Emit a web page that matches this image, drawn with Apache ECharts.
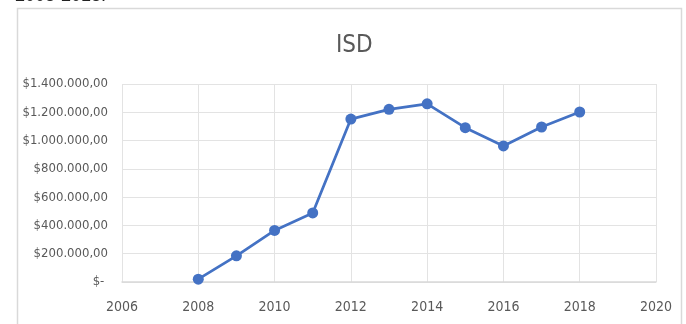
<!DOCTYPE html>
<html>
<head>
<meta charset="utf-8">
<script src="https://cdn.jsdelivr.net/npm/echarts@6/dist/echarts.min.js"></script>
<style>
html,body{margin:0;padding:0;background:#fff;}
#chart{width:686px;height:324px;}
</style>
</head>
<body>
<div id="chart"></div>
<script>
var years = [2008, 2009, 2010, 2011, 2012, 2013, 2014, 2015, 2016, 2017, 2018];
var isdValues = [20000, 185000, 365000, 488000, 1152000, 1221000, 1260000, 1091000, 962000, 1096000, 1202000];
var yTickLabels = ['$-', '$200.000,00', '$400.000,00', '$600.000,00', '$800.000,00', '$1.000.000,00', '$1.200.000,00', '$1.400.000,00'];
var xTickLabels = ['2006', '2008', '2010', '2012', '2014', '2016', '2018', '2020'];

var labelFont = '"DejaVu Sans Condensed", "DejaVu Sans", sans-serif';
var chart = echarts.init(document.getElementById('chart'), null, {renderer: 'canvas'});
var seriesData = years.map(function (y, i) { return [y, isdValues[i]]; });

chart.setOption({
  animation: false,
  backgroundColor: '#ffffff',
  title: {
    text: 'ISD',
    left: 331,
    top: 29,
    textStyle: {color: '#595959', fontSize: 24, fontWeight: 'normal', fontFamily: labelFont}
  },
  graphic: [
    {type: 'rect', shape: {x: 17.5, y: 8.5, width: 664, height: 320}, style: {fill: 'none', stroke: '#d9d9d9', lineWidth: 1.5}, silent: true},
    {type: 'text', left: 15, top: -13, style: {text: '2008-2018.', fontSize: 18, fontFamily: 'Liberation Sans, Arial, sans-serif', fill: '#222222'}, silent: true}
  ],
  grid: {left: 122, right: 30, top: 84, bottom: 42, containLabel: false},
  xAxis: {
    type: 'value',
    min: 2006, max: 2020, interval: 2,
    axisLine: {show: true, lineStyle: {color: '#d9d9d9', width: 1.5}},
    axisTick: {show: false},
    splitLine: {show: true, lineStyle: {color: '#e3e3e3', width: 1}},
    axisLabel: {
      color: '#595959', fontSize: 14, fontFamily: labelFont, margin: 18,
      formatter: function (v) { var i = Math.round((v - 2006) / 2); return xTickLabels[i] || ''; }
    }
  },
  yAxis: {
    type: 'value',
    min: 0, max: 1400000, interval: 200000,
    axisLine: {show: false},
    axisTick: {show: false},
    splitLine: {show: true, lineStyle: {color: '#e3e3e3', width: 1}},
    axisLabel: {
      color: '#595959', fontSize: 13, fontFamily: labelFont, margin: 14,
      formatter: function (v) { var i = Math.round(v / 200000); return i === 0 ? yTickLabels[0] + ' ' : yTickLabels[i]; }
    }
  },
  series: [{
    type: 'line',
    data: seriesData,
    lineStyle: {color: '#4472C4', width: 2.75},
    itemStyle: {color: '#4472C4'},
    symbol: 'circle',
    symbolSize: 11,
    showSymbol: true
  }]
});
</script>
</body>
</html>
